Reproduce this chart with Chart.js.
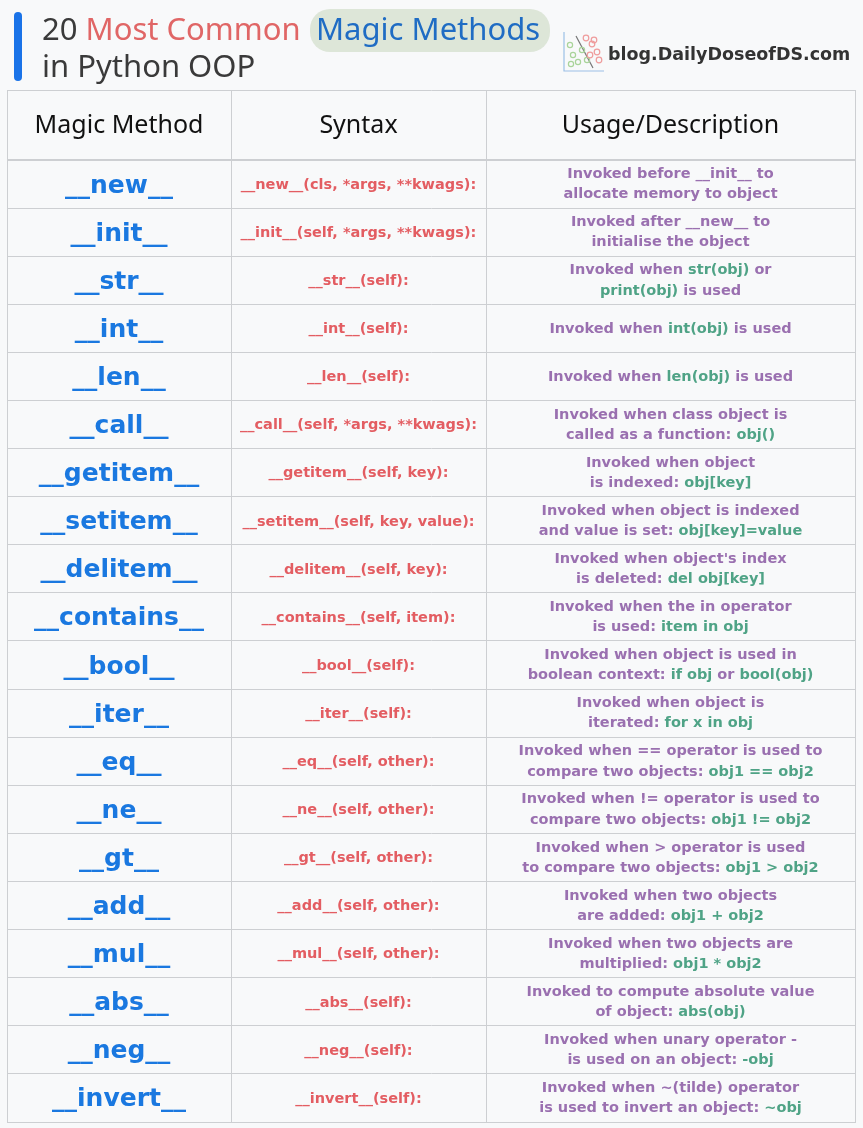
<!DOCTYPE html>
<html>
<head>
<meta charset="utf-8">
<script src="https://cdn.jsdelivr.net/npm/chart.js@4"></script>
<style>
  html, body { margin: 0; padding: 0; background: #f8f9fa; }
  #wrap { width: 863px; height: 1128px; position: relative; }
</style>
</head>
<body>
<div id="wrap"><canvas id="magicChart"></canvas></div>
<script>
// table content
const headers = ['Magic Method', 'Syntax', 'Usage/Description'];

const methods = [
  '__new__', '__init__', '__str__', '__int__', '__len__',
  '__call__', '__getitem__', '__setitem__', '__delitem__', '__contains__',
  '__bool__', '__iter__', '__eq__', '__ne__', '__gt__',
  '__add__', '__mul__', '__abs__', '__neg__', '__invert__'
];

const syntaxes = [
  '__new__(cls, *args, **kwags):',
  '__init__(self, *args, **kwags):',
  '__str__(self):',
  '__int__(self):',
  '__len__(self):',
  '__call__(self, *args, **kwags):',
  '__getitem__(self, key):',
  '__setitem__(self, key, value):',
  '__delitem__(self, key):',
  '__contains__(self, item):',
  '__bool__(self):',
  '__iter__(self):',
  '__eq__(self, other):',
  '__ne__(self, other):',
  '__gt__(self, other):',
  '__add__(self, other):',
  '__mul__(self, other):',
  '__abs__(self):',
  '__neg__(self):',
  '__invert__(self):'
];

// `...` marks the green code parts
const usageLine1 = [
  'Invoked before __init__ to',
  'Invoked after __new__ to',
  'Invoked when `str(obj)` or',
  'Invoked when `int(obj)` is used',
  'Invoked when `len(obj)` is used',
  'Invoked when class object is',
  'Invoked when object',
  'Invoked when object is indexed',
  "Invoked when object's index",
  'Invoked when the in operator',
  'Invoked when object is used in',
  'Invoked when object is',
  'Invoked when == operator is used to',
  'Invoked when != operator is used to',
  'Invoked when > operator is used',
  'Invoked when two objects',
  'Invoked when two objects are',
  'Invoked to compute absolute value',
  'Invoked when unary operator -',
  'Invoked when ~(tilde) operator'
];

const usageLine2 = [
  'allocate memory to object',
  'initialise the object',
  '`print(obj)` is used',
  '',
  '',
  'called as a function: `obj()`',
  'is indexed: `obj[key]`',
  'and value is set: `obj[key]=value`',
  'is deleted: `del obj[key]`',
  'is used: `item in obj`',
  'boolean context: `if obj` or `bool(obj)`',
  'iterated: `for x in obj`',
  'compare two objects: `obj1 == obj2`',
  'compare two objects: `obj1 != obj2`',
  'to compare two objects: `obj1 > obj2`',
  'are added: `obj1 + obj2`',
  'multiplied: `obj1 * obj2`',
  'of object: `abs(obj)`',
  'is used on an object: `-obj`',
  'is used to invert an object: `~obj`'
];

const colEdges = [0, 224, 479, 848];
const headerUnits = 1.455;

const BLUE = '#1a78e0';
const RED = '#e35d62';
const PURPLE = '#9a70b0';
const GREEN = '#4fa386';
const GRID = '#cdcfd2';

function drawRich(ctx, text, cx, cy) {
  const parts = text.split('`');
  let total = 0;
  parts.forEach(p => { total += ctx.measureText(p).width; });
  let x = cx - total / 2;
  ctx.textAlign = 'left';
  parts.forEach((p, i) => {
    ctx.fillStyle = i % 2 ? GREEN : PURPLE;
    ctx.fillText(p, x, cy);
    x += ctx.measureText(p).width;
  });
}

const tablePlugin = {
  id: 'tablePlugin',
  beforeDraw(chart) {
    const ctx = chart.ctx;
    ctx.save();
    ctx.fillStyle = '#f8f9fa';
    ctx.fillRect(0, 0, chart.width, chart.height);

    // left accent bar
    ctx.fillStyle = '#1a73e8';
    ctx.beginPath();
    ctx.roundRect(14, 12, 8, 69, 4);
    ctx.fill();

    // highlight behind "Magic Methods"
    ctx.fillStyle = '#dde6d8';
    ctx.beginPath();
    ctx.roundRect(310, 9, 240, 43, 20);
    ctx.fill();

    ctx.textBaseline = 'middle';
    ctx.textAlign = 'left';
    ctx.font = '31px "Noto Sans"';
    ctx.fillStyle = '#3a3a3a';
    ctx.fillText('20 ', 42, 31);
    const w20 = ctx.measureText('20 ').width;
    ctx.fillStyle = '#e06666';
    ctx.fillText('Most Common', 42 + w20, 31);
    ctx.fillStyle = '#1f6cc4';
    ctx.fillText('Magic Methods', 316, 31);
    ctx.fillStyle = '#3a3a3a';
    ctx.fillText('in Python OOP', 42, 68);

    // logo
    ctx.strokeStyle = '#9cc0e6';
    ctx.lineWidth = 1.2;
    ctx.beginPath();
    ctx.moveTo(564, 32); ctx.lineTo(564, 71); ctx.lineTo(604, 71);
    ctx.stroke();
    ctx.strokeStyle = '#777';
    ctx.beginPath();
    ctx.moveTo(576, 36); ctx.lineTo(593, 68);
    ctx.stroke();
    [[570, 45], [573, 55], [578, 62], [582, 50], [587, 60], [571, 64]].forEach(([a, b]) => {
      ctx.strokeStyle = '#a9d49a';
      ctx.beginPath(); ctx.arc(a, b, 2.6, 0, Math.PI * 2); ctx.stroke();
    });
    [[586, 38], [592, 44], [597, 52], [590, 55], [599, 60], [594, 40]].forEach(([a, b]) => {
      ctx.strokeStyle = '#ef9c9c';
      ctx.beginPath(); ctx.arc(a, b, 2.8, 0, Math.PI * 2); ctx.stroke();
    });
    ctx.fillStyle = '#333';
    ctx.font = 'bold 17.5px "DejaVu Sans"';
    ctx.fillText('blog.DailyDoseofDS.com', 608, 55);
    ctx.restore();
  },
  afterDraw(chart) {
    const ctx = chart.ctx;
    const xs = chart.scales.x, ys = chart.scales.y;
    const cx = i => xs.getPixelForValue((colEdges[i] + colEdges[i + 1]) / 2);
    ctx.save();
    ctx.textBaseline = 'middle';
    ctx.textAlign = 'center';

    // header
    ctx.fillStyle = '#111';
    ctx.font = '25px "Noto Sans"';
    const hy = ys.getPixelForValue(-headerUnits / 2) + 1;
    headers.forEach((h, i) => ctx.fillText(h, cx(i), hy));

    const rowH = Math.abs(ys.getPixelForValue(1) - ys.getPixelForValue(0));
    methods.forEach((m, r) => {
      const y = ys.getPixelForValue(r + 0.5);
      ctx.textAlign = 'center';
      ctx.fillStyle = BLUE;
      ctx.font = 'bold 25px "DejaVu Sans"';
      ctx.fillText(m, cx(0), y + 2);

      ctx.fillStyle = RED;
      ctx.font = 'bold 14.5px "DejaVu Sans"';
      ctx.fillText(syntaxes[r], cx(1), y + 1);

      ctx.font = 'bold 14.5px "DejaVu Sans"';
      if (usageLine2[r]) {
        drawRich(ctx, usageLine1[r], cx(2), y - rowH * 0.2);
        drawRich(ctx, usageLine2[r], cx(2), y + rowH * 0.22);
      } else {
        drawRich(ctx, usageLine1[r], cx(2), y + 1);
      }
    });
    ctx.restore();
  }
};

const config = {
  type: 'scatter',
  data: { datasets: [] },
  options: {
    responsive: true,
    maintainAspectRatio: false,
    animation: false,
    layout: { padding: { top: 90, left: 7, right: 8, bottom: 6 } },
    plugins: { legend: { display: false }, tooltip: { enabled: false } },
    scales: {
      x: {
        type: 'linear',
        min: colEdges[0],
        max: colEdges[colEdges.length - 1],
        afterBuildTicks: s => { s.ticks = colEdges.map(v => ({ value: v })); },
        ticks: { display: false },
        grid: { color: GRID, drawTicks: false },
        border: { display: true, color: GRID }
      },
      y: {
        type: 'linear',
        reverse: true,
        min: -headerUnits,
        max: methods.length,
        afterBuildTicks: s => {
          s.ticks = [{ value: -headerUnits }].concat(methods.map((m, i) => ({ value: i }))).concat([{ value: methods.length }]);
        },
        ticks: { display: false },
        grid: { color: GRID, drawTicks: false, lineWidth: c => (c.index === 1 ? 2 : 1) },
        border: { display: true, color: GRID }
      }
    }
  },
  plugins: [tablePlugin]
};

const magicChart = new Chart(document.getElementById('magicChart'), config);
</script>
</body>
</html>
